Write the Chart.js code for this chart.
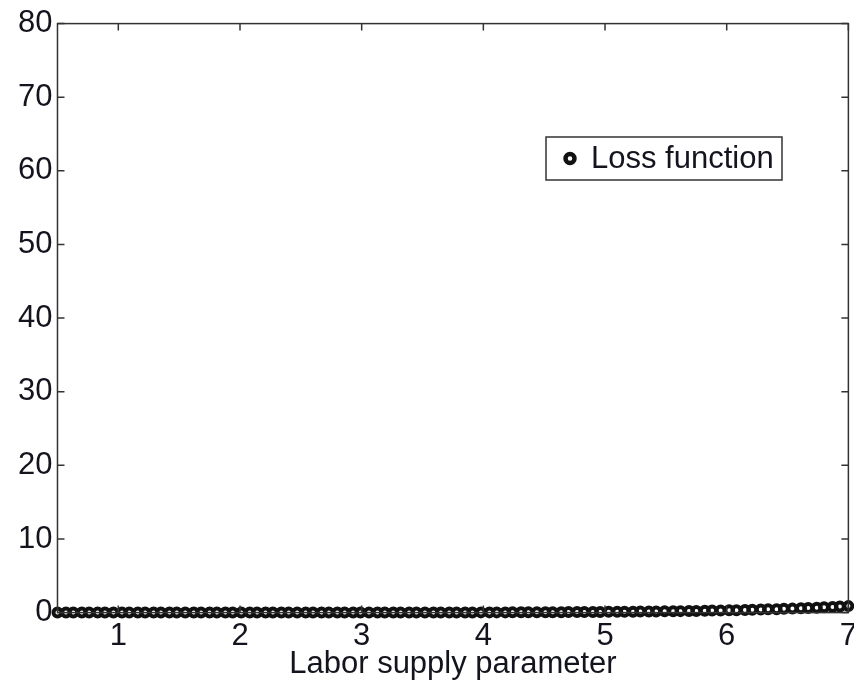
<!DOCTYPE html>
<html>
<head>
<meta charset="utf-8">
<script src="https://cdn.jsdelivr.net/npm/chart.js@4"></script>
<style>
  html, body { margin: 0; padding: 0; background: #fff; overflow: hidden; }
  #wrap { width: 862px; height: 680px; }
</style>
</head>
<body>
<div id="wrap"><canvas id="chart"></canvas></div>
<script>
// Labor supply parameter grid (100 points from 0.5 to 7)
const laborParam = [
  0.50, 0.57, 0.63, 0.70, 0.76, 0.83, 0.89, 0.96, 1.03, 1.09,
  1.16, 1.22, 1.29, 1.35, 1.42, 1.48, 1.55, 1.62, 1.68, 1.75,
  1.81, 1.88, 1.94, 2.01, 2.08, 2.14, 2.21, 2.27, 2.34, 2.40,
  2.47, 2.54, 2.60, 2.67, 2.73, 2.80, 2.86, 2.93, 2.99, 3.06,
  3.13, 3.19, 3.26, 3.32, 3.39, 3.45, 3.52, 3.59, 3.65, 3.72,
  3.78, 3.85, 3.91, 3.98, 4.05, 4.11, 4.18, 4.24, 4.31, 4.37,
  4.44, 4.51, 4.57, 4.64, 4.70, 4.77, 4.83, 4.90, 4.96, 5.03,
  5.10, 5.16, 5.23, 5.29, 5.36, 5.42, 5.49, 5.56, 5.62, 5.69,
  5.75, 5.82, 5.88, 5.95, 6.02, 6.08, 6.15, 6.21, 6.28, 6.34,
  6.41, 6.47, 6.54, 6.61, 6.67, 6.74, 6.80, 6.87, 6.93, 7.00
];

// Loss function values
const lossValues = [
  0.00, 0.00, 0.00, 0.00, 0.00, 0.00, 0.00, 0.00, 0.00, 0.00,
  0.00, 0.00, 0.00, 0.00, 0.00, 0.00, 0.00, 0.00, 0.00, 0.00,
  0.00, 0.00, 0.00, 0.00, 0.00, 0.00, 0.00, 0.00, 0.00, 0.00,
  0.00, 0.00, 0.00, 0.00, 0.00, 0.00, 0.00, 0.00, 0.00, 0.00,
  0.01, 0.01, 0.01, 0.01, 0.01, 0.01, 0.01, 0.01, 0.02, 0.02,
  0.02, 0.02, 0.02, 0.03, 0.03, 0.03, 0.03, 0.04, 0.04, 0.04,
  0.05, 0.05, 0.06, 0.06, 0.07, 0.07, 0.08, 0.09, 0.09, 0.10,
  0.11, 0.12, 0.13, 0.14, 0.15, 0.16, 0.17, 0.19, 0.20, 0.22,
  0.23, 0.25, 0.27, 0.29, 0.31, 0.33, 0.36, 0.38, 0.41, 0.44,
  0.47, 0.51, 0.54, 0.58, 0.62, 0.67, 0.72, 0.77, 0.82, 0.88
];

const xTicks = [1, 2, 3, 4, 5, 6, 7];
const yTicks = [0, 10, 20, 30, 40, 50, 60, 70, 80];

const seriesLabel = "Loss function";
const xTitle = "Labor supply parameter";

const FONT = "'Liberation Sans', Arial, sans-serif";
const TEXT_COLOR = "#14141e";

// Draw the axes box with inward ticks on all four sides, matlab style
const boxPlugin = {
  id: "boxPlugin",
  afterDatasetsDraw(chart) {
    const { ctx, chartArea: a, scales } = chart;
    const len = 7;
    ctx.save();
    ctx.strokeStyle = "#333";
    ctx.lineWidth = 1.5;
    ctx.strokeRect(a.left, a.top, a.right - a.left, a.bottom - a.top);
    ctx.beginPath();
    xTicks.forEach((v) => {
      const px = scales.x.getPixelForValue(v);
      ctx.moveTo(px, a.bottom);
      ctx.lineTo(px, a.bottom - len);
      ctx.moveTo(px, a.top);
      ctx.lineTo(px, a.top + len);
    });
    yTicks.forEach((v) => {
      const py = scales.y.getPixelForValue(v);
      ctx.moveTo(a.left, py);
      ctx.lineTo(a.left + len, py);
      ctx.moveTo(a.right, py);
      ctx.lineTo(a.right - len, py);
    });
    ctx.stroke();

    // legend box inside the plot
    const ds = chart.data.datasets[0];
    const bx = 546, by = 137, bw = 236, bh = 43;
    ctx.fillStyle = "#fff";
    ctx.fillRect(bx, by, bw, bh);
    ctx.strokeStyle = "#333";
    ctx.lineWidth = 1.5;
    ctx.strokeRect(bx, by, bw, bh);
    ctx.beginPath();
    ctx.arc(bx + 24, by + bh / 2, 4.5, 0, Math.PI * 2);
    ctx.lineWidth = 4.5;
    ctx.strokeStyle = ds.pointBorderColor;
    ctx.stroke();
    ctx.fillStyle = TEXT_COLOR;
    ctx.font = "31px " + FONT;
    ctx.textBaseline = "middle";
    ctx.fillText(ds.label, bx + 45, by + bh / 2 + 1);
    ctx.restore();
  },
};

new Chart(document.getElementById("chart"), {
  type: "scatter",
  data: {
    datasets: [
      {
        label: seriesLabel,
        data: laborParam.map((x, i) => ({ x: x, y: lossValues[i] })),
        pointStyle: "circle",
        pointRadius: 4,
        pointBorderWidth: 4,
        pointBorderColor: "#111",
        pointBackgroundColor: "rgba(255,255,255,0)",
        showLine: false,
      },
    ],
  },
  options: {
    responsive: true,
    maintainAspectRatio: false,
    animation: false,
    clip: false,
    layout: { padding: { top: 14, left: 13, right: 0, bottom: -3 } },
    plugins: {
      legend: { display: false },
      tooltip: { enabled: false },
    },
    scales: {
      x: {
        type: "linear",
        min: 0.5,
        max: 7,
        afterBuildTicks: (scale) => {
          scale.ticks = xTicks.map((v) => ({ value: v }));
        },
        grid: { display: false, drawTicks: false },
        border: { display: false },
        ticks: {
          font: { family: FONT, size: 31 },
          color: TEXT_COLOR,
          padding: 5,
          maxRotation: 0,
          autoSkip: false,
        },
        title: {
          display: true,
          text: xTitle,
          font: { family: FONT, size: 31 },
          color: TEXT_COLOR,
          padding: { top: -14, bottom: 0 },
        },
      },
      y: {
        min: 0,
        max: 80,
        afterBuildTicks: (scale) => {
          scale.ticks = yTicks.map((v) => ({ value: v }));
        },
        grid: { display: false, drawTicks: false },
        border: { display: false },
        ticks: {
          font: { family: FONT, size: 31 },
          color: TEXT_COLOR,
          padding: 5,
        },
      },
    },
  },
  plugins: [boxPlugin],
});
</script>
</body>
</html>
